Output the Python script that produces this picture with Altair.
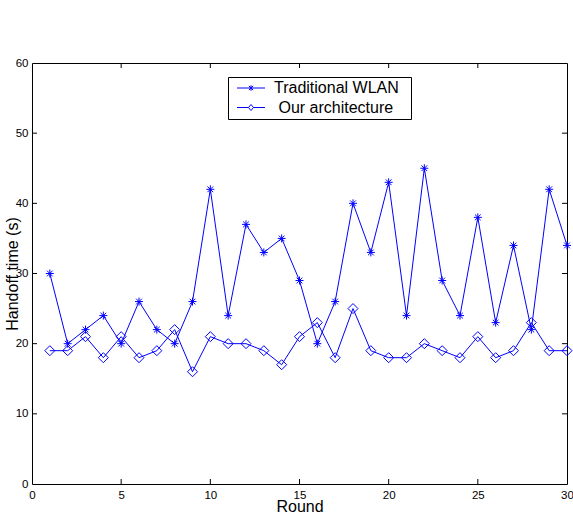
import altair as alt
import pandas as pd

# ---- data ----
rounds = list(range(1, 31))
traditional = [30, 20, 22, 24, 20, 26, 22, 20, 26, 42, 24, 37, 33, 35, 29,
               20, 26, 40, 33, 43, 24, 45, 29, 24, 38, 23, 34, 22, 42, 34]
ours = [19, 19, 21, 18, 21, 18, 19, 22, 16, 21, 20, 20, 19, 17, 21,
        23, 18, 25, 19, 18, 18, 20, 19, 18, 21, 18, 19, 23, 19, 19]
series_names = ["Traditional WLAN", "Our architecture"]
x_ticks = [0, 5, 10, 15, 20, 25, 30]
y_ticks = [0, 10, 20, 30, 40, 50, 60]

W, H = 535, 421
BLUE = "#0000ff"
FONT = "Liberation Sans, Arial, Helvetica, sans-serif"

df = pd.DataFrame({
    "round": rounds * 2,
    "value": traditional + ours,
    "series": [series_names[0]] * len(rounds) + [series_names[1]] * len(rounds),
})
df["marker"] = df["series"]

# inward tick marks on all four sides (MATLAB style)
tlx = 30 * 5 / W
tly = 60 * 5 / H
tick_rows = []
for v in y_ticks[1:-1]:
    tick_rows.append({"tx": 0, "tx2": tlx, "ty": v, "ty2": v})
    tick_rows.append({"tx": 30 - tlx, "tx2": 30, "ty": v, "ty2": v})
for v in x_ticks[1:-1]:
    tick_rows.append({"tx": v, "tx2": v, "ty": 0, "ty2": tly})
    tick_rows.append({"tx": v, "tx2": v, "ty": 60 - tly, "ty2": 60})
ticks_df = pd.DataFrame(tick_rows)

xs = alt.Scale(domain=[0, 30], nice=False, zero=False)
ys = alt.Scale(domain=[0, 60], nice=False, zero=False)

x_axis = alt.Axis(values=x_ticks, title="Round", ticks=False, tickSize=0, domain=False,
                  grid=False, labelPadding=5, labelFlush=False, labelOverlap=False,
                  titleY=27, titleBaseline="alphabetic", format="d")
y_axis = alt.Axis(values=y_ticks, title="Handoff time (s)", ticks=False, tickSize=0,
                  domain=False, grid=False, labelPadding=4, labelFlush=False,
                  labelOverlap=False, titleX=-14.5, titleBaseline="alphabetic", format="d")

STAR = "M-0.8,0L0.8,0M0,-0.8L0,0.8M-0.57,-0.57L0.57,0.57M-0.57,0.57L0.57,-0.57"
DIAMOND = "M0,-1L1,0L0,1L-1,0Z"
# legend symbols: short line with a small marker, drawn a little right of the symbol centre
LSTAR = ("M-0.4,0L5.2,0M2.4,-0.55L2.4,0.55M1.98,-0.42L2.82,0.42M1.98,0.42L2.82,-0.42")
LDIAM = ("M-0.4,0L1.9,0M2.9,0L5.2,0M2.4,-0.6L2.9,0L2.4,0.6L1.9,0Z")

NB = "\u00a0"
ZW = "\u200b"  # keeps the non-breaking spaces from being trimmed
label_expr = ("'" + ZW + "' + (datum.label == 'Our architecture' ? '" + NB + "Our architecture' : datum.label) + '"
              + NB * 2 + ZW + "'")

base = alt.Chart(df)

lines = base.mark_line(color=BLUE, strokeWidth=1).encode(
    x=alt.X("round:Q", scale=xs, axis=x_axis),
    y=alt.Y("value:Q", scale=ys, axis=y_axis),
    detail="series:N",
)

points = base.mark_point(filled=False, color=BLUE, strokeWidth=1, size=100, opacity=1).encode(
    x=alt.X("round:Q", scale=xs),
    y=alt.Y("value:Q", scale=ys),
    shape=alt.Shape("marker:N", scale=alt.Scale(domain=series_names, range=[STAR, DIAMOND]),
                    legend=None),
)

tick_marks = alt.Chart(ticks_df).mark_rule(color="black", strokeWidth=1).encode(
    x=alt.X("tx:Q", scale=xs),
    x2="tx2:Q",
    y=alt.Y("ty:Q", scale=ys),
    y2="ty2:Q",
)

legend_layer = base.transform_filter("false").mark_point(
    filled=False, color=BLUE, strokeWidth=1, size=100, opacity=1
).encode(
    x=alt.X("round:Q", scale=xs),
    y=alt.Y("value:Q", scale=ys),
    shape=alt.Shape(
        "series:N",
        scale=alt.Scale(domain=series_names, range=[LSTAR, LDIAM]),
        legend=alt.Legend(
            title=None, orient="none", legendX=196, legendY=14,
            strokeColor="black", fillColor="white", padding=3,
            labelFont=FONT, labelFontSize=16, labelColor="black",
            labelOffset=27, rowPadding=3.5, symbolSize=100,
            symbolStrokeColor=BLUE, symbolStrokeWidth=1, symbolOpacity=1,
            symbolFillColor="transparent",
            labelExpr=label_expr,
        ),
    ),
)

chart = alt.layer(lines, points, tick_marks, legend_layer).resolve_scale(
    shape="independent"
).properties(
    width=W, height=H,
    autosize=alt.AutoSizeParams(type="none"),
    padding={"left": 32, "top": 63, "right": 6, "bottom": 31},
).configure_view(
    stroke="black", strokeWidth=1
).configure_axis(
    labelFont=FONT, labelFontSize=11.5, labelColor="black",
    titleFont=FONT, titleFontSize=16, titleFontWeight="normal", titleColor="black",
)

chart.save("out.html", embed_options={"renderer": "svg", "actions": False})
